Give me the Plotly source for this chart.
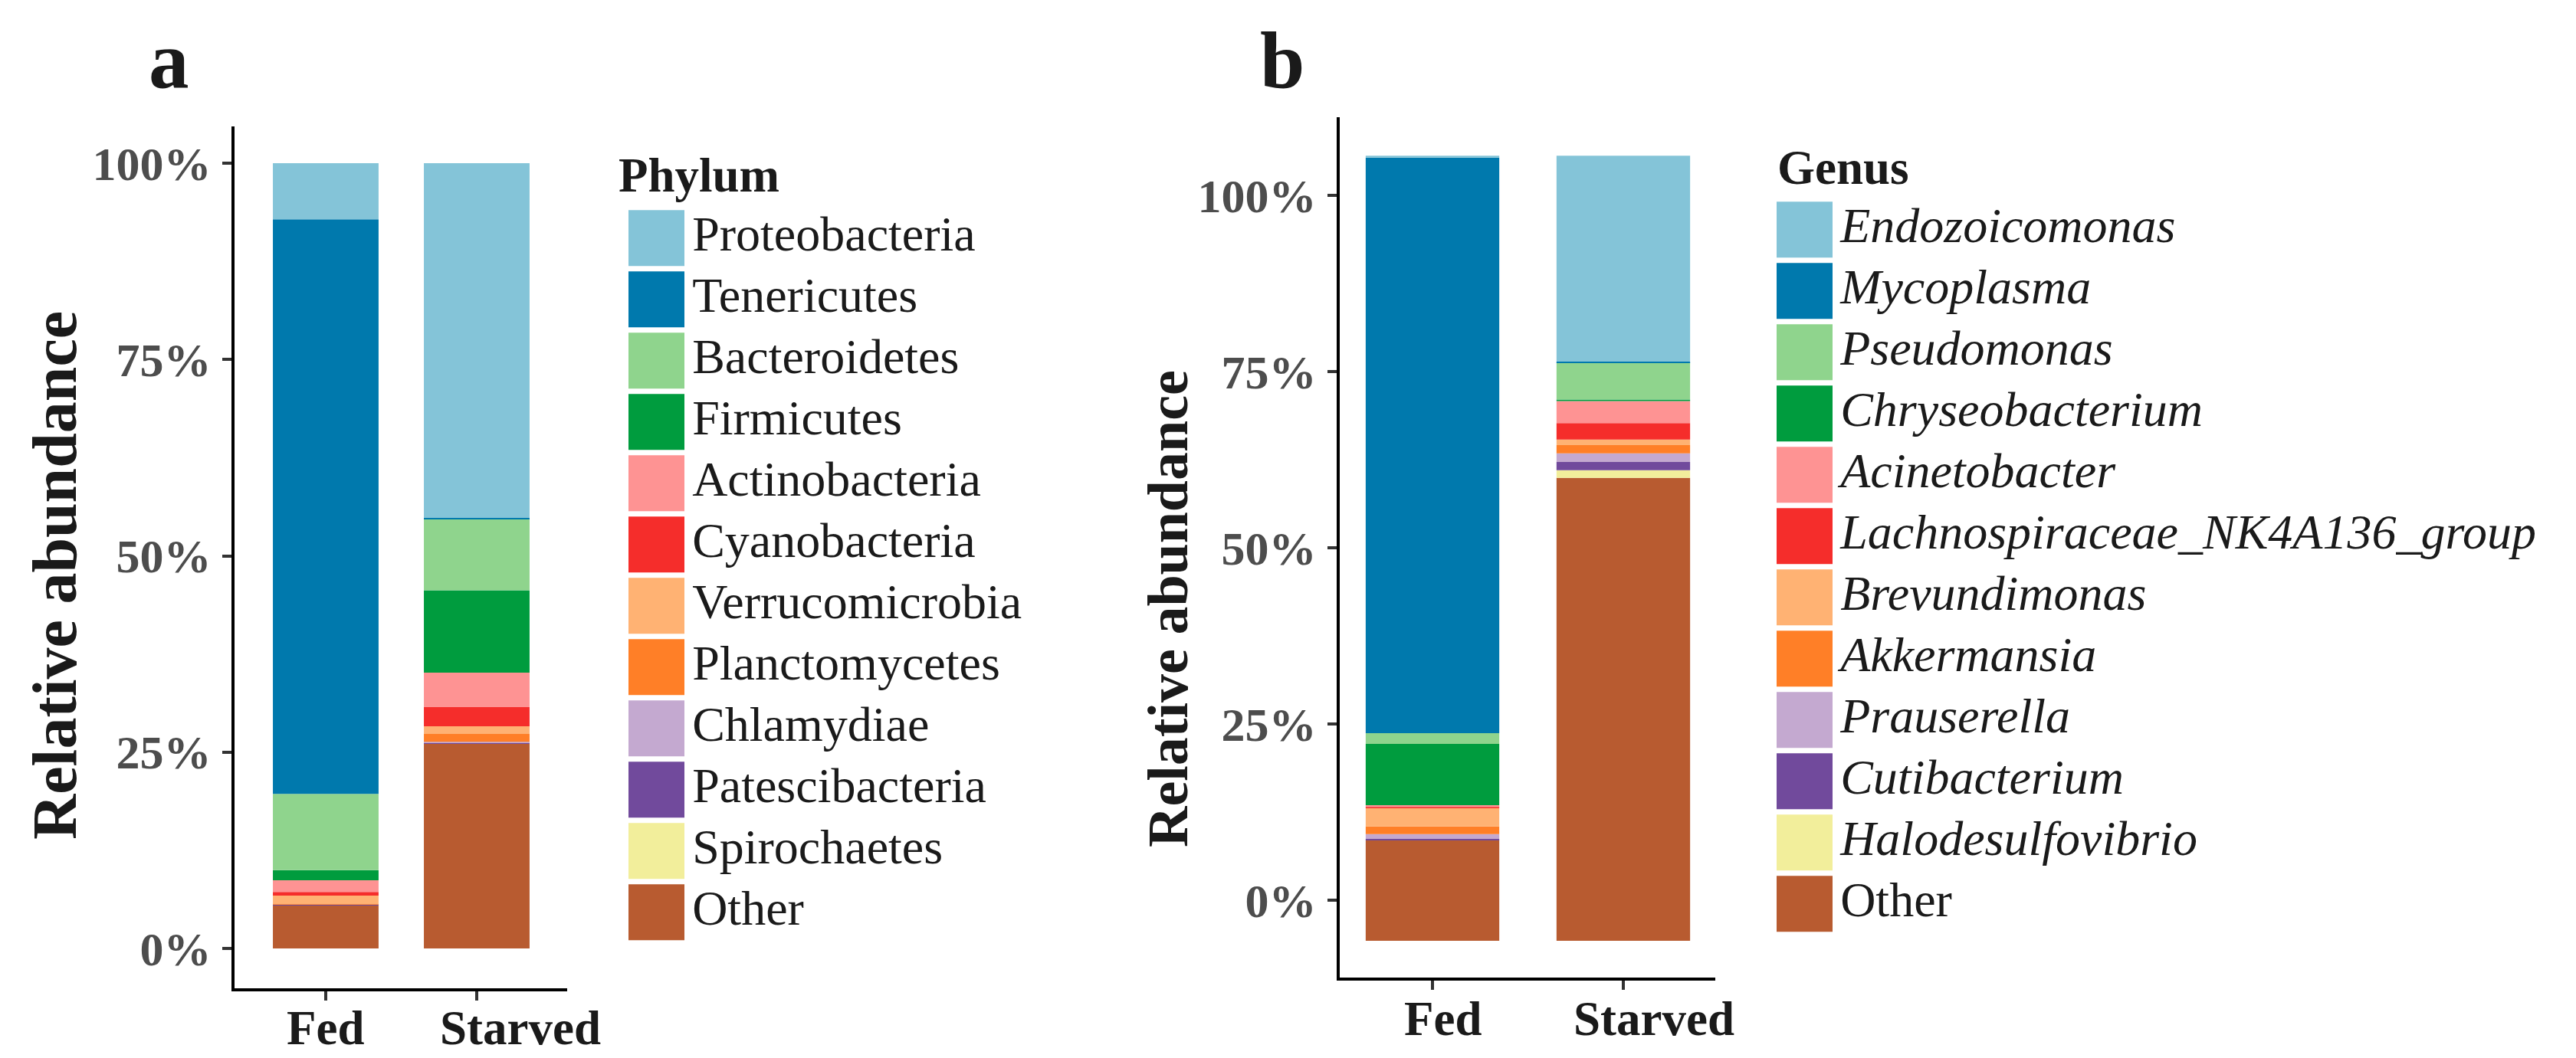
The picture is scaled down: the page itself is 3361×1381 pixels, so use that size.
import numpy as np
import plotly.graph_objects as go

# ---------------- data (percent of axis scale) ----------------
samples = ["Fed", "Starved"]

phyla = ["Proteobacteria", "Tenericutes", "Bacteroidetes", "Firmicutes",
         "Actinobacteria", "Cyanobacteria", "Verrucomicrobia", "Planctomycetes",
         "Chlamydiae", "Patescibacteria", "Spirochaetes", "Other"]
phylum_fed = [7.16, 73.15, 9.71, 1.30, 1.49, 0.46, 1.10, 0.04, 0.02, 0.01, 0.01, 5.55]
phylum_starved = [45.17, 0.12, 9.09, 10.50, 4.39, 2.44, 0.98, 0.98, 0.17, 0.05, 0.05, 26.06]

genera = ["Endozoicomonas", "Mycoplasma", "Pseudomonas", "Chryseobacterium",
          "Acinetobacter", "Lachnospiraceae_NK4A136_group", "Brevundimonas",
          "Akkermansia", "Prauserella", "Cutibacterium", "Halodesulfovibrio", "Other"]
genus_fed = [0.28, 81.65, 1.52, 8.70, 0.26, 0.15, 2.60, 1.09, 0.68, 0.18, 0.02, 14.24]
genus_starved = [29.20, 0.15, 5.25, 0.22, 3.12, 2.32, 0.80, 1.16, 1.23, 1.16, 1.09, 65.67]
genus_start = -5.71   # where the genus bars begin on the printed axis

tick_vals = [0, 25, 50, 75, 100]
tick_text = ["0%", "25%", "50%", "75%", "100%"]

palette = ["#84C4D8", "#0079AD", "#8FD48D", "#009C3E", "#FE9393", "#F52D2B",
           "#FFB273", "#FF7F27", "#C4A9D0", "#714A9C", "#F2EE9B", "#B85B30"]

# ---------------- geometry ----------------
W, H = 3361, 1381
FONT = "Liberation Serif"


def fx(p):
    return p / W


def fy(p):
    return 1 - p / H


fig = go.Figure()


def add_stack(names, fed, starved, start, xa, ya):
    vals = np.array([fed, starved], dtype=float)  # shape (2, n)
    # stack from the last legend entry (Other) at the bottom upward
    order = list(range(len(names)))[::-1]
    base = np.array([start, start], dtype=float)
    for i in order:
        fig.add_trace(go.Bar(
            x=samples, y=vals[:, i], base=base.copy(), name=names[i],
            marker=dict(color=palette[i], line=dict(width=0)),
            width=0.70, xaxis=xa, yaxis=ya, showlegend=False))
        base = base + vals[:, i]


add_stack(phyla, phylum_fed, phylum_starved, 0.0, "x", "y")
add_stack(genera, genus_fed, genus_starved, genus_start, "x2", "y2")


# legend-like key columns (drawn as square markers on hidden axes)
def add_key(names, labels, xa, ya):
    n = len(names)
    fig.add_trace(go.Scatter(
        x=[0] * n, y=list(range(n - 1, -1, -1)), mode="markers+text",
        marker=dict(symbol="square", size=73, color=palette[:n], line=dict(width=0)),
        text=labels, textposition="middle right",
        textfont=dict(family=FONT, size=64, color="#1a1a1a"),
        cliponaxis=False, showlegend=False, hoverinfo="skip",
        xaxis=xa, yaxis=ya))


add_key(phyla, phyla, "x3", "y3")
add_key(genera, [g if g == "Other" else "<i>%s</i>" % g for g in genera], "x4", "y4")

ytick_font = dict(family=FONT, size=62, color="#4D4D4D", weight="bold")
xlab_font = dict(family=FONT, size=63, color="#1a1a1a", weight="bold")
axis_common = dict(showline=True, linecolor="black", linewidth=4, ticks="outside",
                   ticklen=12, tickwidth=4, tickcolor="#333333", showgrid=False,
                   zeroline=False, fixedrange=True)

hidden = dict(visible=False, showgrid=False, zeroline=False, fixedrange=True)

fig.update_layout(
    width=W, height=H, margin=dict(l=0, r=0, t=0, b=0),
    paper_bgcolor="white", plot_bgcolor="white", barmode="overlay",
    showlegend=False,
    xaxis=dict(domain=[fx(298), fx(732)], range=[-0.604, 1.599], anchor="y",
               showticklabels=False, **axis_common),
    yaxis=dict(domain=[fy(1282), fy(157)], range=[-5.07, 104.68], anchor="x",
               tickvals=tick_vals, ticktext=tick_text, tickfont=ytick_font,
               ticklabelstandoff=2, **axis_common),
    xaxis2=dict(domain=[fx(1740), fx(2230)], range=[-0.486, 1.482], anchor="y2",
                showticklabels=False, **axis_common),
    yaxis2=dict(domain=[fy(1268), fy(145)], range=[-10.93, 111.12], anchor="x2",
                tickvals=tick_vals, ticktext=tick_text, tickfont=ytick_font,
                ticklabelstandoff=2, **axis_common),
    xaxis3=dict(domain=[fx(812), fx(885)], range=[-0.5, 0.5], anchor="y3", **hidden),
    yaxis3=dict(domain=[fy(1262.7), fy(222.7)], range=[-1, 12], anchor="x3", **hidden),
    xaxis4=dict(domain=[fx(2310), fx(2383)], range=[-0.5, 0.5], anchor="y4", **hidden),
    yaxis4=dict(domain=[fy(1251.7), fy(211.7)], range=[-1, 12], anchor="x4", **hidden),
)

ann = []
# sample labels under each panel (the printed labels sit slightly off the ticks)
for xref, ypix, shifts in [("x", 1334, [0, 57]), ("x2", 1322, [13, 40])]:
    for s, sh in zip(samples, shifts):
        ann.append(dict(text=s, x=s, xref=xref, y=fy(ypix), yref="paper",
                        xanchor="center", yanchor="middle", xshift=sh,
                        showarrow=False, font=xlab_font))
# panel letters
ann.append(dict(text="a", x=fx(213), y=fy(71), xref="paper", yref="paper",
                xanchor="center", yanchor="middle", showarrow=False,
                font=dict(family=FONT, size=105, color="#1a1a1a", weight="bold")))
ann.append(dict(text="b", x=fx(1665), y=fy(72), xref="paper", yref="paper",
                xanchor="center", yanchor="middle", showarrow=False,
                font=dict(family=FONT, size=105, color="#1a1a1a", weight="bold")))
# y-axis titles
for xc, yc, fs in [(63, 743, 82), (1516, 787, 74)]:
    ann.append(dict(text="Relative abundance", x=fx(xc), y=fy(yc), xref="paper",
                    yref="paper", xanchor="center", yanchor="middle", textangle=-90,
                    showarrow=False,
                    font=dict(family=FONT, size=fs, color="#1a1a1a", weight="bold")))
# key titles
ann.append(dict(text="Phylum", x=fx(797), y=fy(221), xref="paper", yref="paper",
                xanchor="left", yanchor="middle", showarrow=False,
                font=dict(family=FONT, size=63, color="#1a1a1a", weight="bold")))
ann.append(dict(text="Genus", x=fx(2309), y=fy(211), xref="paper", yref="paper",
                xanchor="left", yanchor="middle", showarrow=False,
                font=dict(family=FONT, size=63, color="#1a1a1a", weight="bold")))
fig.update_layout(annotations=ann)

fig.write_html("out.html")
